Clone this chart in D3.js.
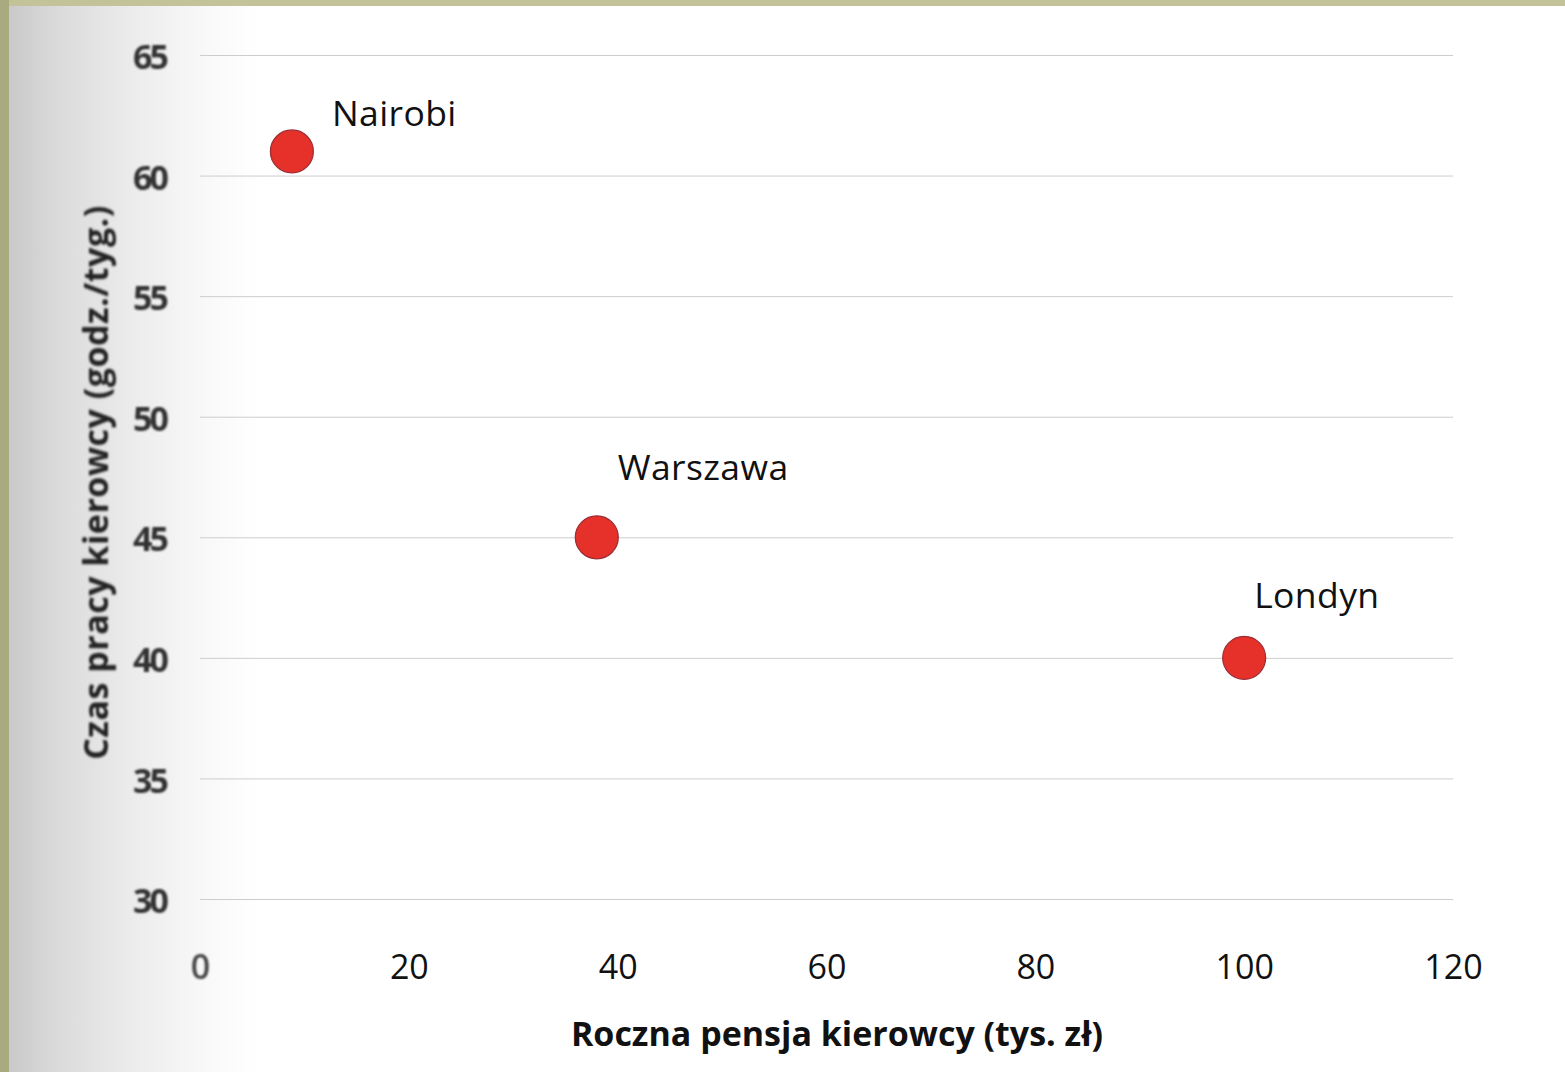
<!DOCTYPE html>
<html>
<head>
<meta charset="utf-8">
<script src="https://cdn.jsdelivr.net/npm/d3@7"></script>
<style>
  html, body { margin: 0; padding: 0; background: #fff; }
  svg { display: block; }
</style>
</head>
<body>
<svg id="chart" width="1565" height="1072"></svg>
<script>
// ---- data ----
const cities = ["Nairobi", "Warszawa", "Londyn"];
const salary = [8.8, 38, 100];        // Roczna pensja kierowcy (tys. zł)
const hours  = [61, 45, 40];          // Czas pracy kierowcy (godz./tyg.)
const xTicks = [0, 20, 40, 60, 80, 100, 120];
const yTicks = [30, 35, 40, 45, 50, 55, 60, 65];
const xTitle = "Roczna pensja kierowcy (tys. zł)";
const yTitle = "Czas pracy kierowcy (godz./tyg.)";

// label offsets (layout only)
const labelDx = [40, 21, 10];
const labelDy = [-25, -57, -50];

// ---- layout ----
const W = 1565, H = 1072;
const mLeft = 200, mRight = 1453, mTop = 55, mBottom = 899;
const svg = d3.select("#chart");

const defs = svg.append("defs");
const grad = defs.append("linearGradient").attr("id", "shadow")
  .attr("x1", "0").attr("x2", "1").attr("y1", "0").attr("y2", "0");
[[0, "#c9c9c9"], [0.2, "#dbdbdb"], [0.5, "#ececec"], [0.8, "#f9f9f9"], [1, "#ffffff"]]
  .forEach(([o, c]) => grad.append("stop").attr("offset", o).attr("stop-color", c));
const blur = defs.append("filter").attr("id", "blur")
  .attr("x", "-20%").attr("y", "-20%").attr("width", "140%").attr("height", "140%");
blur.append("feGaussianBlur").attr("stdDeviation", 1.2);

// background: page + scan shadow + olive border
svg.append("rect").attr("x", 0).attr("y", 0).attr("width", W).attr("height", H).attr("fill", "#ffffff");
svg.append("rect").attr("x", 9).attr("y", 6).attr("width", 250).attr("height", H).attr("fill", "url(#shadow)");
svg.append("rect").attr("x", 0).attr("y", 0).attr("width", W).attr("height", 6).attr("fill", "#c2c399");
svg.append("rect").attr("x", 0).attr("y", 0).attr("width", 9).attr("height", H).attr("fill", "#a9aa80");

// ---- scales ----
const x = d3.scaleLinear().domain([0, 120]).range([mLeft, mRight]);
const y = d3.scaleLinear().domain([30, 65]).range([mBottom, mTop]);

// gridlines
const grid = svg.append("g")
  .attr("transform", `translate(${mLeft},0)`)
  .call(d3.axisLeft(y).tickValues(yTicks).tickSize(-(mRight - mLeft)).tickFormat(""));
grid.select(".domain").remove();
grid.selectAll(".tick line").attr("stroke", "#cdcdcd").attr("stroke-width", 1);

// y tick labels
const yAxis = svg.append("g")
  .attr("transform", `translate(166,0)`)
  .call(d3.axisLeft(y).tickValues(yTicks).tickSize(0).tickPadding(0));
yAxis.select(".domain").remove();
yAxis.selectAll(".tick text")
  .attr("font-family", "'Open Sans', sans-serif")
  .attr("font-size", 34)
  .attr("font-weight", 700)
  .attr("letter-spacing", -3)
  .attr("fill", "#333")
  .attr("dy", "0.40em")
  .attr("filter", "url(#blur)");

// x tick labels
const xAxis = svg.append("g")
  .attr("transform", `translate(0,${mBottom})`)
  .call(d3.axisBottom(x).tickValues(xTicks).tickSize(0).tickPadding(0));
xAxis.select(".domain").remove();
xAxis.selectAll(".tick text")
  .attr("font-family", "'Open Sans', sans-serif")
  .attr("font-size", 34)
  .attr("dy", 0)
  .attr("y", 80)
  .attr("filter", d => d === 0 ? "url(#blur)" : null)
  .attr("font-weight", d => d === 0 ? 600 : 400)
  .attr("fill", d => d === 0 ? "#444" : "#111");

// axis titles
svg.append("text")
  .attr("x", (567 + 1107) / 2).attr("y", 1046)
  .attr("text-anchor", "middle")
  .attr("font-family", "'Open Sans', sans-serif")
  .attr("font-size", 34).attr("font-weight", 700)
  .attr("fill", "#111")
  .text(xTitle);

svg.append("text")
  .attr("transform", `translate(108,${(205 + 760) / 2}) rotate(-90)`)
  .attr("text-anchor", "middle")
  .attr("font-family", "'Open Sans', sans-serif")
  .attr("font-size", 34).attr("font-weight", 700)
  .attr("letter-spacing", 0.5)
  .attr("fill", "#222")
  .attr("filter", "url(#blur)")
  .text(yTitle);

// points
const pts = cities.map((c, i) => ({ city: c, sx: salary[i], hy: hours[i], i }));
svg.append("g").selectAll("circle").data(pts).join("circle")
  .attr("cx", d => x(d.sx))
  .attr("cy", d => y(d.hy))
  .attr("r", 21.5)
  .attr("fill", "#e6312a")
  .attr("stroke", "#9a2d36")
  .attr("stroke-width", 1.2);

// labels
svg.append("g").selectAll("text").data(pts).join("text")
  .attr("x", d => x(d.sx) + labelDx[d.i])
  .attr("y", d => y(d.hy) + labelDy[d.i])
  .attr("font-family", "'Open Sans', sans-serif")
  .attr("font-size", 35.5)
  .attr("letter-spacing", 0.4)
  .attr("fill", "#111")
  .text(d => d.city);
</script>
</body>
</html>
